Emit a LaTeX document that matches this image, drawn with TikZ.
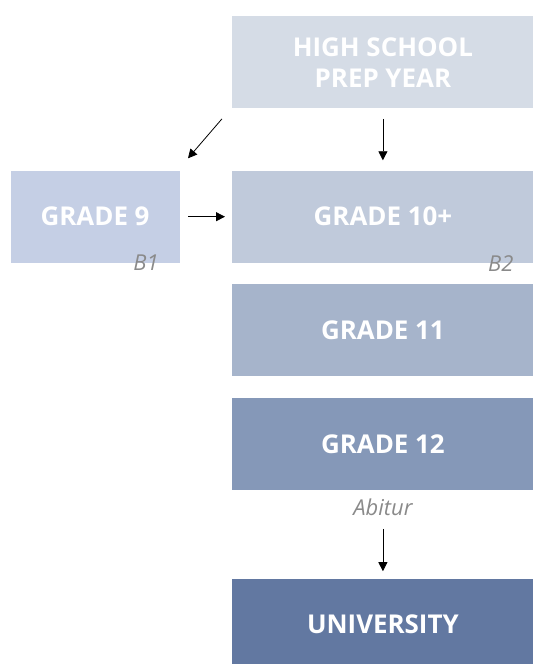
\documentclass[tikz,border=0pt]{standalone}
\usepackage{xcolor}
\usepackage{fontspec}
\setmainfont{Open Sans}
\usepackage{tikz}
\usetikzlibrary{arrows, arrows.meta, positioning, calc}

\definecolor{prepcol}{HTML}{D5DCE6}
\definecolor{gninecol}{HTML}{C5CFE5}
\definecolor{gtencol}{HTML}{C0CADB}
\definecolor{gelevencol}{HTML}{A6B4CB}
\definecolor{gtwelvecol}{HTML}{8598B8}
\definecolor{unicol}{HTML}{6278A1}
\definecolor{notecol}{HTML}{8A8A8A}

\begin{document}
\begin{tikzpicture}[>={Triangle[length=9bp,width=9bp]},line width=0.8pt,
			grade node/.style={rectangle,fill=#1,text=white,minimum width=301bp,minimum height=92bp,
				inner sep=0pt,align=center,font=\bfseries\fontsize{26}{31}\selectfont},
			note/.style={text=notecol,font=\itshape\fontsize{22}{26}\selectfont}]
			
			\useasboundingbox (0,0) rectangle (533bp,-664bp);
			\clip (0,0) rectangle (533bp,-664bp);
			
			\node[grade node=prepcol,anchor=north west] (prep) at (232bp,-16bp) {HIGH SCHOOL\\PREP YEAR};
			\node[grade node=gtencol] (g10) [below=61.5bp of prep] {GRADE 10+};
			\node[grade node=gninecol,minimum width=169bp] (g9) [left=52bp of g10] {GRADE 9};
			\node[grade node=gelevencol] (g11) [below=20.5bp of g10] {GRADE 11};
			\node[grade node=gtwelvecol] (g12) [below=21.5bp of g11] {GRADE 12};
			\node[grade node=unicol] (uni) [below=87.5bp of g12] {UNIVERSITY};
			
			\node[note] (b1) at ([xshift=-34bp]g9.south east) {B1};
			\node[note] (b2) at ([xshift=-33bp]g10.south east) {B2};
			\node[note] (abi) [below=4bp of g12] {Abitur};
			
			\draw[->] ([shift={(-10bp,-10bp)}]prep.south west) -- ([shift={(8bp,12bp)}]g9.north east);
			\draw[->,shorten <=10bp,shorten >=10bp] (prep) -- (g10);
			\draw[->,shorten <=8bp,shorten >=7bp] (g9) -- (g10);
			\draw[->,shorten <=10bp,shorten >=7bp] (abi) -- (uni);
		
		\end{tikzpicture}
\end{document}
